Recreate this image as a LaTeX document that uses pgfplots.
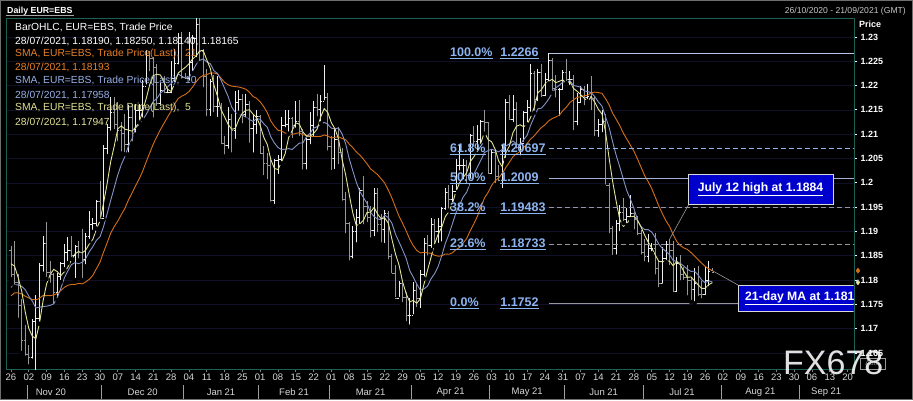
\documentclass[border=0pt]{standalone}
\usepackage{pgfplots}
\pgfplotsset{compat=1.18}
\usepackage{pgfplotstable}
\usepackage{fontspec}
\setmainfont{Liberation Sans}
\usetikzlibrary{calc}
\pgfdeclarelayer{background}
\pgfsetlayers{background,main}

\definecolor{plotframe}{RGB}{28,96,88}
\definecolor{outerframe}{RGB}{110,110,110}
\definecolor{upbar}{RGB}{238,238,238}
\definecolor{dnbar}{RGB}{150,150,150}
\definecolor{sma21}{RGB}{214,112,24}
\definecolor{sma10}{RGB}{132,148,200}
\definecolor{sma5}{RGB}{228,228,150}
\definecolor{sma21txt}{RGB}{232,128,40}
\definecolor{sma10txt}{RGB}{150,176,232}
\definecolor{sma5txt}{RGB}{226,226,150}
\definecolor{fibtext}{RGB}{140,180,240}
\definecolor{fibhi}{RGB}{180,196,228}
\definecolor{fib618}{RGB}{140,180,230}
\definecolor{fibmid}{RGB}{160,176,214}
\definecolor{fibgray}{RGB}{150,150,160}
\definecolor{boxblue}{RGB}{0,0,205}
\definecolor{gridc}{RGB}{16,16,38}
\definecolor{lbl}{RGB}{215,215,215}

\newcommand\lgfont{\fontsize{10.3}{12}\selectfont}
\newcommand\fibfont{\bfseries\fontsize{12.5}{13}\selectfont}
\newcommand\boxfont{\bfseries\fontsize{12.2}{13}\selectfont}

% open tick to the left, close tick to the right of each bar
\pgfdeclareplotmark{ohlcopen}{%
  \pgfpathmoveto{\pgfpoint{-1.7pt}{0pt}}%
  \pgfpathlineto{\pgfpoint{0pt}{0pt}}%
  \pgfusepathqstroke}
\pgfdeclareplotmark{ohlcclose}{%
  \pgfpathmoveto{\pgfpoint{0pt}{0pt}}%
  \pgfpathlineto{\pgfpoint{1.7pt}{0pt}}%
  \pgfusepathqstroke}

% daily EUR/USD bars (i = trading day from 26/10/2020) with 5, 10 and 21 day SMAs
\pgfplotstableread{
i O H L C s5 s10 s21
0 1.1860 1.1870 1.1802 1.1811 1.18336 1.17850 1.17674
1 1.1811 1.1880 1.1786 1.1795 1.18286 1.17900 1.17736
2 1.1795 1.1813 1.1718 1.1747 1.18056 1.17901 1.17737
3 1.1747 1.1762 1.1650 1.1675 1.17776 1.17871 1.17715
4 1.1675 1.1708 1.1640 1.1646 1.17348 1.17800 1.17667
5 1.1646 1.1667 1.1622 1.1640 1.17006 1.17671 1.17631
6 1.1640 1.1720 1.1634 1.1714 1.16844 1.17565 1.17599
7 1.1714 1.1770 1.1603 1.1722 1.16794 1.17425 1.17592
8 1.1722 1.1836 1.1710 1.1831 1.17106 1.17441 1.17626
9 1.1831 1.1891 1.1813 1.1876 1.17566 1.17457 1.17682
10 1.1876 1.1920 1.1802 1.1816 1.17918 1.17462 1.17679
11 1.1816 1.1840 1.1790 1.1812 1.18114 1.17479 1.17678
12 1.1812 1.1815 1.1745 1.1775 1.18220 1.17507 1.17692
13 1.1775 1.1815 1.1759 1.1808 1.18174 1.17640 1.17722
14 1.1808 1.1838 1.1796 1.1834 1.18090 1.17828 1.17783
15 1.1834 1.1874 1.1822 1.1856 1.18170 1.18044 1.17850
16 1.1856 1.1889 1.1835 1.1860 1.18266 1.18190 1.17893
17 1.1860 1.1891 1.1843 1.1851 1.18418 1.18319 1.17908
18 1.1851 1.1872 1.1800 1.1869 1.18540 1.18357 1.17911
19 1.1869 1.1881 1.1840 1.1857 1.18586 1.18338 1.17931
20 1.1857 1.1905 1.1800 1.1842 1.18558 1.18364 1.17922
21 1.1842 1.1897 1.1828 1.1889 1.18616 1.18441 1.17960
22 1.1889 1.1941 1.1880 1.1915 1.18744 1.18581 1.18017
23 1.1915 1.1927 1.1899 1.1916 1.18838 1.18689 1.18097
24 1.1916 1.1964 1.1906 1.1962 1.19048 1.18817 1.18234
25 1.1962 1.2004 1.1924 1.1927 1.19218 1.18888 1.18368
26 1.1927 1.2077 1.1925 1.2071 1.19582 1.19099 1.18573
27 1.2071 1.2121 1.2055 1.2113 1.19978 1.19361 1.18763
28 1.2113 1.2176 1.2103 1.2144 1.20434 1.19636 1.18964
29 1.2144 1.2177 1.2106 1.2121 1.20752 1.19900 1.19102
30 1.2121 1.2166 1.2081 1.2107 1.21112 1.20165 1.19212
31 1.2107 1.2125 1.2060 1.2101 1.21172 1.20377 1.19348
32 1.2101 1.2141 1.2059 1.2079 1.21104 1.20541 1.19475
33 1.2079 1.2160 1.2058 1.2134 1.21084 1.20759 1.19646
34 1.2134 1.2162 1.2081 1.2110 1.21062 1.20907 1.19790
35 1.2110 1.2163 1.2099 1.2148 1.21144 1.21128 1.19939
36 1.2148 1.2163 1.2124 1.2149 1.21240 1.21206 1.20079
37 1.2149 1.2212 1.2130 1.2199 1.21480 1.21292 1.20240
38 1.2199 1.2273 1.2198 1.2262 1.21736 1.21410 1.20436
39 1.2262 1.2272 1.2225 1.2256 1.22028 1.21545 1.20620
40 1.2256 1.2258 1.2130 1.2237 1.22206 1.21675 1.20801
41 1.2237 1.2245 1.2154 1.2163 1.22234 1.21737 1.20954
42 1.2163 1.2206 1.2156 1.2190 1.22216 1.21848 1.21097
43 1.2190 1.2220 1.2180 1.2186 1.22064 1.21900 1.21226
44 1.2186 1.2192 1.2180 1.2186 1.21924 1.21976 1.21355
45 1.2186 1.2250 1.2180 1.2214 1.21878 1.22042 1.21475
46 1.2214 1.2276 1.2203 1.2246 1.22044 1.22139 1.21627
47 1.2246 1.2309 1.2239 1.2298 1.22260 1.22238 1.21735
48 1.2298 1.2310 1.2210 1.2216 1.22320 1.22192 1.21784
49 1.2216 1.2225 1.2210 1.2215 1.22378 1.22151 1.21818
50 1.2215 1.2310 1.2206 1.2248 1.22446 1.22162 1.21878
51 1.2248 1.2305 1.2225 1.2297 1.22548 1.22296 1.21969
52 1.2297 1.2349 1.2254 1.2326 1.22604 1.22432 1.22076
53 1.2326 1.2342 1.2246 1.2271 1.22714 1.22517 1.22167
54 1.2271 1.2275 1.2192 1.2219 1.22722 1.22550 1.22208
55 1.2219 1.2235 1.2133 1.2151 1.22528 1.22487 1.22227
56 1.2151 1.2214 1.2133 1.2208 1.22350 1.22449 1.22256
57 1.2208 1.2222 1.2141 1.2157 1.22012 1.22308 1.22260
58 1.2157 1.2220 1.2131 1.2157 1.21784 1.22249 1.22240
59 1.2157 1.2164 1.2075 1.2080 1.21506 1.22114 1.22153
60 1.2080 1.2097 1.2054 1.2076 1.21356 1.21942 1.22067
61 1.2076 1.2155 1.2066 1.2131 1.21202 1.21776 1.22017
62 1.2131 1.2142 1.2058 1.2107 1.21102 1.21557 1.21990
63 1.2107 1.2188 1.2086 1.2165 1.21118 1.21451 1.21978
64 1.2165 1.2191 1.2144 1.2172 1.21302 1.21404 1.21971
65 1.2172 1.2182 1.2118 1.2141 1.21432 1.21394 1.21950
66 1.2141 1.2183 1.2130 1.2161 1.21492 1.21347 1.21925
67 1.2161 1.2168 1.2078 1.2112 1.21502 1.21302 1.21861
68 1.2112 1.2140 1.2058 1.2120 1.21412 1.21265 1.21776
69 1.2120 1.2149 1.2096 1.2136 1.21340 1.21321 1.21738
70 1.2136 1.2140 1.2055 1.2061 1.21180 1.21306 1.21665
71 1.2061 1.2076 1.2011 1.2040 1.20938 1.21215 1.21566
72 1.2040 1.2062 1.2003 1.2036 1.20786 1.21144 1.21441
73 1.2036 1.2049 1.1957 1.1964 1.20474 1.20943 1.21269
74 1.1964 1.2050 1.1952 1.2047 1.20296 1.20818 1.21162
75 1.2047 1.2057 1.2014 1.2049 1.20272 1.20726 1.21081
76 1.2049 1.2136 1.2040 1.2118 1.20428 1.20683 1.21066
77 1.2118 1.2150 1.2110 1.2120 1.20596 1.20691 1.21024
78 1.2120 1.2150 1.2101 1.2132 1.20932 1.20703 1.21012
79 1.2132 1.2136 1.2088 1.2119 1.21076 1.20686 1.20994
80 1.2119 1.2169 1.2109 1.2127 1.21232 1.20752 1.21016
81 1.2127 1.2170 1.2092 1.2105 1.21206 1.20817 1.21030
82 1.2105 1.2110 1.2023 1.2040 1.21046 1.20821 1.20987
83 1.2040 1.2093 1.2023 1.2090 1.20962 1.20947 1.20979
84 1.2090 1.2145 1.2075 1.2117 1.20958 1.21017 1.20956
85 1.2117 1.2169 1.2090 1.2155 1.21014 1.21123 1.20948
86 1.2155 1.2182 1.2133 1.2150 1.21104 1.21155 1.20952
87 1.2150 1.2180 1.2122 1.2167 1.21358 1.21202 1.20955
88 1.2167 1.2243 1.2165 1.2175 1.21528 1.21245 1.20985
89 1.2175 1.2185 1.2062 1.2075 1.21444 1.21201 1.20963
90 1.2075 1.2096 1.2022 1.2050 1.21234 1.21124 1.20922
91 1.2050 1.2111 1.2024 1.2089 1.21112 1.21108 1.20936
92 1.2089 1.2114 1.2034 1.2063 1.20904 1.21131 1.20947
93 1.2063 1.2071 1.1959 1.1966 1.20486 1.21007 1.20913
94 1.1966 1.1982 1.1892 1.1916 1.20168 1.20806 1.20890
95 1.1916 1.1920 1.1836 1.1848 1.19764 1.20499 1.20796
96 1.1848 1.1912 1.1840 1.1900 1.19386 1.20249 1.20725
97 1.1900 1.1947 1.1873 1.1929 1.19118 1.20011 1.20635
98 1.1929 1.1990 1.1911 1.1985 1.19156 1.19821 1.20570
99 1.1985 1.2014 1.1910 1.1952 1.19228 1.19698 1.20485
100 1.1952 1.1962 1.1915 1.1929 1.19390 1.19577 1.20394
101 1.1929 1.1952 1.1883 1.1903 1.19396 1.19391 1.20288
102 1.1903 1.1990 1.1886 1.1978 1.19494 1.19306 1.20227
103 1.1978 1.1990 1.1894 1.1915 1.19354 1.19255 1.20168
104 1.1915 1.1936 1.1873 1.1905 1.19260 1.19244 1.20080
105 1.1905 1.1944 1.1872 1.1937 1.19276 1.19333 1.19994
106 1.1937 1.1942 1.1838 1.1849 1.19168 1.19282 1.19848
107 1.1849 1.1853 1.1810 1.1814 1.18840 1.19167 1.19688
108 1.1814 1.1831 1.1760 1.1763 1.18536 1.18945 1.19496
109 1.1763 1.1799 1.1761 1.1792 1.18310 1.18785 1.19313
110 1.1792 1.1798 1.1750 1.1764 1.17964 1.18620 1.19165
111 1.1764 1.1775 1.1711 1.1728 1.17722 1.18445 1.19012
112 1.1728 1.1763 1.1704 1.1728 1.17550 1.18195 1.18840
113 1.1728 1.1796 1.1725 1.1779 1.17582 1.18059 1.18705
114 1.1779 1.1791 1.1740 1.1762 1.17522 1.17916 1.18608
115 1.1762 1.1820 1.1738 1.1812 1.17618 1.17791 1.18558
116 1.1812 1.1887 1.1803 1.1875 1.17912 1.17817 1.18571
117 1.1875 1.1893 1.1846 1.1872 1.18200 1.17875 1.18558
118 1.1872 1.1927 1.1862 1.1914 1.18470 1.18026 1.18550
119 1.1914 1.1926 1.1869 1.1900 1.18746 1.18134 1.18510
120 1.1900 1.1928 1.1872 1.1911 1.18944 1.18281 1.18490
121 1.1911 1.1950 1.1875 1.1947 1.19088 1.18500 1.18499
122 1.1947 1.1990 1.1940 1.1980 1.19304 1.18752 1.18536
123 1.1980 1.1995 1.1943 1.1966 1.19408 1.18939 1.18530
124 1.1966 1.1996 1.1956 1.1983 1.19574 1.19160 1.18562
125 1.1983 1.2049 1.1981 1.2035 1.19822 1.19383 1.18624
126 1.2035 1.2080 1.2021 1.2035 1.19998 1.19543 1.18671
127 1.2035 1.2049 1.2003 1.2035 1.20108 1.19706 1.18760
128 1.2035 1.2047 1.1995 1.2015 1.20206 1.19807 1.18855
129 1.2015 1.2101 1.2004 1.2097 1.20434 1.20004 1.19014
130 1.2097 1.2117 1.2072 1.2085 1.20534 1.20178 1.19154
131 1.2085 1.2118 1.2062 1.2090 1.20644 1.20321 1.19309
132 1.2090 1.2130 1.2076 1.2126 1.20826 1.20467 1.19499
133 1.2126 1.2150 1.2101 1.2124 1.21044 1.20625 1.19687
134 1.2124 1.2126 1.2016 1.2020 1.20890 1.20662 1.19802
135 1.2020 1.2070 1.2016 1.2062 1.20844 1.20689 1.19945
136 1.2062 1.2065 1.1995 1.2013 1.20690 1.20667 1.20040
137 1.2013 1.2037 1.1999 1.2005 1.20448 1.20637 1.20102
138 1.2005 1.2077 1.1985 1.2065 1.20330 1.20687 1.20194
139 1.2065 1.2173 1.2047 1.2165 1.20620 1.20755 1.20314
140 1.2165 1.2181 1.2127 1.2130 1.20756 1.20800 1.20423
141 1.2130 1.2181 1.2121 1.2150 1.21030 1.20860 1.20537
142 1.2150 1.2167 1.2066 1.2072 1.21164 1.20806 1.20597
143 1.2072 1.2092 1.2052 1.2080 1.21194 1.20762 1.20644
144 1.2080 1.2148 1.2080 1.2145 1.21154 1.20887 1.20730
145 1.2145 1.2170 1.2120 1.2155 1.21204 1.20980 1.20811
146 1.2155 1.2245 1.2142 1.2225 1.21354 1.21192 1.20902
147 1.2225 1.2230 1.2144 1.2172 1.21554 1.21359 1.20967
148 1.2172 1.2234 1.2164 1.2228 1.21850 1.21522 1.21059
149 1.2228 1.2244 1.2172 1.2179 1.21918 1.21536 1.21137
150 1.2179 1.2226 1.2174 1.2213 1.22034 1.21619 1.21192
151 1.2213 1.2266 1.2204 1.2251 1.22086 1.21720 1.21271
152 1.2251 1.2257 1.2185 1.2194 1.22130 1.21842 1.21321
153 1.2194 1.2222 1.2171 1.2193 1.22060 1.21955 1.21353
154 1.2193 1.2196 1.2133 1.2193 1.22088 1.22003 1.21386
155 1.2193 1.2232 1.2188 1.2228 1.22118 1.22076 1.21485
156 1.2228 1.2254 1.2205 1.2212 1.22040 1.22063 1.21556
157 1.2212 1.2230 1.2197 1.2212 1.22076 1.22103 1.21651
158 1.2212 1.2221 1.2104 1.2126 1.21942 1.22001 1.21709
159 1.2126 1.2185 1.2114 1.2165 1.21886 1.21987 1.21756
160 1.2165 1.2200 1.2160 1.2193 1.21816 1.21967 1.21770
161 1.2193 1.2199 1.2155 1.2175 1.21742 1.21891 1.21791
162 1.2175 1.2204 1.2168 1.2178 1.21674 1.21875 1.21804
163 1.2178 1.2219 1.2145 1.2174 1.21770 1.21856 1.21853
164 1.2174 1.2178 1.2092 1.2108 1.21656 1.21771 1.21866
165 1.2108 1.2132 1.2090 1.2121 1.21512 1.21664 1.21855
166 1.2121 1.2150 1.2100 1.2127 1.21416 1.21579 1.21841
167 1.2127 1.2142 1.1992 1.1995 1.21050 1.21362 1.21732
168 1.1995 1.2000 1.1892 1.1906 1.20514 1.21142 1.21605
169 1.1906 1.1912 1.1847 1.1865 1.20028 1.20842 1.21432
170 1.1865 1.1924 1.1848 1.1916 1.19618 1.20565 1.21307
171 1.1916 1.1955 1.1896 1.1940 1.19244 1.20330 1.21177
172 1.1940 1.1969 1.1917 1.1925 1.19104 1.20077 1.21022
173 1.1925 1.1949 1.1913 1.1930 1.19152 1.19833 1.20896
174 1.1930 1.1975 1.1925 1.1937 1.19296 1.19662 1.20774
175 1.1937 1.1940 1.1900 1.1925 1.19314 1.19466 1.20647
176 1.1925 1.1932 1.1888 1.1895 1.19224 1.19234 1.20488
177 1.1895 1.1903 1.1848 1.1857 1.19088 1.19096 1.20319
178 1.1857 1.1885 1.1834 1.1848 1.18924 1.19038 1.20146
179 1.1848 1.1895 1.1832 1.1864 1.18778 1.19037 1.20021
180 1.1864 1.1876 1.1855 1.1864 1.18656 1.18985 1.19878
181 1.1864 1.1896 1.1807 1.1823 1.18512 1.18868 1.19701
182 1.1823 1.1842 1.1781 1.1792 1.18382 1.18735 1.19519
183 1.1792 1.1868 1.1788 1.1845 1.18376 1.18650 1.19360
184 1.1845 1.1880 1.1837 1.1874 1.18396 1.18587 1.19218
185 1.1874 1.1884 1.1826 1.1860 1.18388 1.18522 1.19100
186 1.1860 1.1881 1.1772 1.1776 1.18294 1.18403 1.18935
187 1.1776 1.1848 1.1772 1.1835 1.18380 1.18381 1.18796
188 1.1835 1.1851 1.1795 1.1812 1.18314 1.18345 1.18709
189 1.1812 1.1827 1.1796 1.1805 1.18176 1.18286 1.18661
190 1.1805 1.1831 1.1764 1.1800 1.18056 1.18222 1.18630
191 1.1800 1.1804 1.1755 1.1780 1.18064 1.18179 1.18565
192 1.1780 1.1825 1.1752 1.1794 1.17982 1.18181 1.18496
193 1.1794 1.1829 1.1763 1.1771 1.17900 1.18107 1.18422
194 1.1771 1.1797 1.1758 1.1770 1.17830 1.18003 1.18346
195 1.1770 1.1828 1.1765 1.1800 1.17830 1.17943 1.18281
196 1.1800 1.1840 1.1783 1.1817 1.17904 1.17984 1.18230
197 1.18190 1.18250 1.18140 1.18165 1.17947 1.17958 1.18193
}\eurusd

\pgfplotsset{
  pricegeom/.style={
    scale only axis, width=848pt, height=351pt,
    xmin=-1.4, xmax=236.8, ymin=1.1617, ymax=1.2339},
  upday/.style={y filter/.expression={\thisrow{C}>=\thisrow{O} ? y : nan}},
  downday/.style={y filter/.expression={\thisrow{C}<\thisrow{O} ? y : nan}},
}

\begin{document}
\begin{tikzpicture}[x=1pt,y=1pt]
\begin{axis}[
  pricegeom,
  axis line style={draw=plotframe, line width=0.9pt},
  tick align=outside,
  xtick pos=bottom, ytick pos=right,
  major tick length=3pt,
  xtick={0,5,...,235},
  xticklabels={26,02,09,16,23,30,07,14,21,28,04,11,18,25,01,08,15,22,01,08,15,22,29,05,12,19,26,03,10,17,24,31,07,14,21,28,05,12,19,26,02,09,16,23,30,06,13,20},
  ytick={1.165,1.17,1.175,1.18,1.185,1.19,1.195,1.2,1.205,1.21,1.215,1.22,1.225,1.23},
  yticklabels={1.165,1.17,1.175,1.18,1.185,1.19,1.195,1.2,1.205,1.21,1.215,1.22,1.225,1.23},
  yticklabel pos=right,
  x tick style={draw=gray, line width=0.6pt},
  y tick style={draw=white, line width=0.8pt},
  xticklabel style={font=\fontsize{9.5}{10}\selectfont, text=lbl, anchor=center, yshift=-5pt},
  yticklabel style={font=\bfseries\fontsize{9}{10}\selectfont, text=white},
  ymajorgrids, grid style={draw=gridc, line width=0.6pt},
]
% high-low range of each bar
\addplot[only marks, mark=none, upday,
  error bars/.cd, y dir=plus, y explicit, error mark=none,
  error bar style={draw=upbar, line width=0.9pt}]
  table[x=i, y=L, y error plus expr=\thisrow{H}-\thisrow{L}] {\eurusd};
\addplot[only marks, mark=none, downday,
  error bars/.cd, y dir=plus, y explicit, error mark=none,
  error bar style={draw=dnbar, line width=0.9pt}]
  table[x=i, y=L, y error plus expr=\thisrow{H}-\thisrow{L}] {\eurusd};
% open and close ticks
\addplot[only marks, upday, mark=ohlcopen, mark options={draw=upbar, line width=0.9pt}]
  table[x=i, y=O] {\eurusd};
\addplot[only marks, upday, mark=ohlcclose, mark options={draw=upbar, line width=0.9pt}]
  table[x=i, y=C] {\eurusd};
\addplot[only marks, downday, mark=ohlcopen, mark options={draw=dnbar, line width=0.9pt}]
  table[x=i, y=O] {\eurusd};
\addplot[only marks, downday, mark=ohlcclose, mark options={draw=dnbar, line width=0.9pt}]
  table[x=i, y=C] {\eurusd};

% moving averages
\addplot[sma21, line width=0.9pt, mark=none] table[x=i, y=s21] {\eurusd};
\addplot[sma10, line width=0.9pt, mark=none] table[x=i, y=s10] {\eurusd};
\addplot[sma5, line width=0.9pt, mark=none] table[x=i, y=s5] {\eurusd};

% Fibonacci retracement from the 25 May high to the 21 July low
\addplot[fibhi, line width=1pt] coordinates {(151,1.2266) (236.8,1.2266)};
\addplot[fib618, line width=0.9pt, dash pattern=on 5pt off 3pt] coordinates {(151,1.20697) (236.8,1.20697)};
\addplot[fibmid, line width=0.9pt] coordinates {(151,1.2009) (236.8,1.2009)};
\addplot[fibgray, line width=0.9pt, dash pattern=on 5pt off 3pt] coordinates {(151,1.19483) (236.8,1.19483)};
\addplot[fibgray, line width=0.9pt, dash pattern=on 5pt off 3pt] coordinates {(151,1.18733) (236.8,1.18733)};
\addplot[fibgray, line width=1.2pt] coordinates {(151,1.1752) (236.8,1.1752)};

\coordinate (plotSW) at (rel axis cs:0,0);

\coordinate (pA100) at (axis cs:123.3,1.2266);
\coordinate (vA100) at (axis cs:137.4,1.2266);
\coordinate (pA618) at (axis cs:123.3,1.20697);
\coordinate (vA618) at (axis cs:137.4,1.20697);
\coordinate (pA500) at (axis cs:123.3,1.2009);
\coordinate (vA500) at (axis cs:137.4,1.2009);
\coordinate (pA382) at (axis cs:123.3,1.19483);
\coordinate (vA382) at (axis cs:137.4,1.19483);
\coordinate (pA236) at (axis cs:123.3,1.18733);
\coordinate (vA236) at (axis cs:137.4,1.18733);
\coordinate (pA000) at (axis cs:123.3,1.1752);
\coordinate (vA000) at (axis cs:137.4,1.1752);

\coordinate (jh) at (axis cs:185,1.1884);
\coordinate (ma) at (axis cs:197,1.18193);

% month boundaries and month label centres on the time axis
\coordinate (s1) at (axis cs:4.5,1.1617);
\coordinate (s2) at (axis cs:25.5,1.1617);
\coordinate (s3) at (axis cs:48.5,1.1617);
\coordinate (s4) at (axis cs:69.5,1.1617);
\coordinate (s5) at (axis cs:89.5,1.1617);
\coordinate (s6) at (axis cs:112.5,1.1617);
\coordinate (s7) at (axis cs:134.5,1.1617);
\coordinate (s8) at (axis cs:155.5,1.1617);
\coordinate (s9) at (axis cs:177.5,1.1617);
\coordinate (s10) at (axis cs:199.5,1.1617);
\coordinate (s11) at (axis cs:221.5,1.1617);
\coordinate (m1) at (axis cs:11.2,1.1617);
\coordinate (m2) at (axis cs:37,1.1617);
\coordinate (m3) at (axis cs:59,1.1617);
\coordinate (m4) at (axis cs:79.5,1.1617);
\coordinate (m5) at (axis cs:101,1.1617);
\coordinate (m6) at (axis cs:123.5,1.1617);
\coordinate (m7) at (axis cs:145,1.1617);
\coordinate (m8) at (axis cs:166.5,1.1617);
\coordinate (m9) at (axis cs:188.5,1.1617);
\coordinate (m10) at (axis cs:210.5,1.1617);
\coordinate (m11) at (axis cs:229,1.1617);
\end{axis}

% last values marked on the price scale
\begin{axis}[pricegeom, at={(plotSW)}, anchor=south west, hide axis, clip=false]
\addplot[only marks, mark=diamond*, mark size=2.5pt, color=sma10] coordinates {(237.9,1.17958)};
\addplot[only marks, mark=diamond*, mark size=2.6pt, color=sma21] coordinates {(237.9,1.18193)};
\addplot[only marks, mark=diamond*, mark size=2.2pt, color=sma5] coordinates {(237.9,1.17947)};
\end{axis}

% page layout in a grid whose origin is the lower-left page corner
\begin{scope}[shift={($(plotSW)+(-6,-31)$)}]
% Fibonacci level labels
\begin{scope}[every node/.style={anchor=west, inner sep=0pt, text=fibtext, font=\fibfont}]
\node at (pA100) {\underline{100.0\%}};
\node at (vA100) {\underline{1.2266}};
\node at (pA618) {\underline{61.8\%}};
\node at (vA618) {\underline{1.20697}};
\node at (pA500) {\underline{50.0\%}};
\node at (vA500) {\underline{1.2009}};
\node at (pA382) {\underline{38.2\%}};
\node at (vA382) {\underline{1.19483}};
\node at (pA236) {\underline{23.6\%}};
\node at (vA236) {\underline{1.18733}};
\node at (pA000) {\underline{0.0\%}};
\node at (vA000) {\underline{1.1752}};
\end{scope}

% series legend
\begin{scope}[every node/.style={anchor=west, inner sep=0pt, font=\lgfont}]
\node[text=white] at (15,373) {BarOHLC, EUR=EBS, Trade Price};
\node[text=white] at (15,359) {28/07/2021, 1.18190, 1.18250, 1.18140, 1.18165};
\node[text=sma21txt] at (15,346) {SMA, EUR=EBS, Trade Price(Last),\ \ 21};
\node[text=sma21txt] at (15,333) {28/07/2021, 1.18193};
\node[text=sma10txt] at (15,319) {SMA, EUR=EBS, Trade Price(Last),\ \ 10};
\node[text=sma10txt] at (15,305) {28/07/2021, 1.17958};
\node[text=sma5txt] at (15,292) {SMA, EUR=EBS, Trade Price(Last),\ \ 5};
\node[text=sma5txt] at (15,278) {28/07/2021, 1.17947};
\end{scope}

% call-outs
\draw[gray!80, line width=0.6pt] (689,196) -- (jh);
\filldraw[fill=boxblue, draw=white!85!black, line width=0.8pt] (688,196) rectangle (833,226);
\node[text=white, font=\boxfont, inner sep=0pt] at (760.5,211) {\underline{July 12 high at 1.1884}};
\draw[gray!80, line width=0.6pt] (738,115) -- (ma);
\begin{scope}
\clip (6,31) rectangle (853.5,382);
\filldraw[fill=boxblue, draw=white!85!black, line width=0.8pt] (738,89) rectangle (880,115);
\node[anchor=west, text=white, font=\boxfont, inner sep=0pt] at (745,102) {\underline{21-day MA at 1.1819}};
\end{scope}

% header
\node[anchor=west, inner sep=0pt, text=white, font=\bfseries\fontsize{8.8}{10}\selectfont] at (7,389) {Daily EUR=EBS};
\draw[gray!70, line width=0.8pt] (6,384.5) -- (74,384.5);
\node[anchor=east, inner sep=0pt, text=white!78!black, font=\fontsize{8.6}{10}\selectfont] at (906,389) {26/10/2020 - 21/09/2021 (GMT)};
\node[inner sep=0pt, text=white, font=\bfseries\fontsize{9}{10}\selectfont] at (870,376) {Price};

% month row
\foreach \s in {s1,s2,s3,s4,s5,s6,s7,s8,s9,s10,s11}
  \draw[gray!75, line width=0.7pt] ($(\s)+(0,-16)$) -- ($(\s)+(0,-30)$);
\begin{scope}[every node/.style={inner sep=0pt, text=lbl, font=\fontsize{9.5}{10}\selectfont}]
\node at ($(m1)+(0,-23)$) {Nov 20};
\node at ($(m2)+(0,-23)$) {Dec 20};
\node at ($(m3)+(0,-23)$) {Jan 21};
\node at ($(m4)+(0,-23)$) {Feb 21};
\node at ($(m5)+(0,-23)$) {Mar 21};
\node at ($(m6)+(0,-23)$) {Apr 21};
\node at ($(m7)+(0,-23)$) {May 21};
\node at ($(m8)+(0,-23)$) {Jun 21};
\node at ($(m9)+(0,-23)$) {Jul 21};
\node at ($(m10)+(0,-23)$) {Aug 21};
\node at ($(m11)+(0,-23)$) {Sep 21};
\end{scope}

% scale mode box and watermark
\draw[gray!80, line width=0.6pt] (860,31) rectangle (885,42);
\node[inner sep=0pt, text=gray!90, font=\fontsize{7}{8}\selectfont] at (872.5,36.5) {Auto};
\node[anchor=base west, inner sep=0pt, text=white, opacity=0.88, font=\fontsize{34}{36}\selectfont] at (783,26) {FX678};

% outer frame
\draw[outerframe, line width=0.8pt] (0.5,0.5) rectangle (912.5,399.5);
\begin{pgfonlayer}{background}
\fill[black] (0,0) rectangle (913,400);
\end{pgfonlayer}
\end{scope}

\pgfresetboundingbox
\path[use as bounding box] ($(plotSW)+(-6,-31)$) rectangle ($(plotSW)+(907,369)$);
\end{tikzpicture}
\end{document}
